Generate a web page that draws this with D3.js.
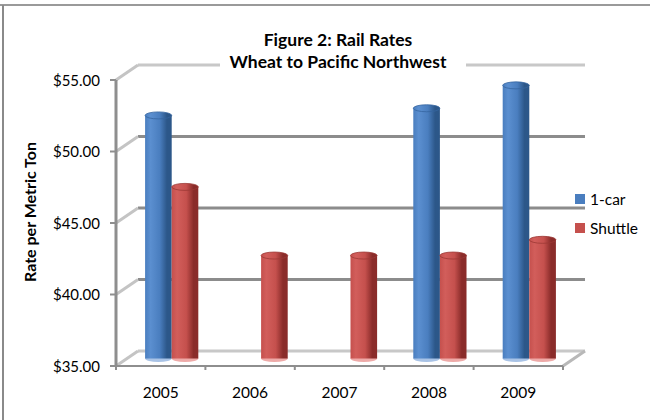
<!DOCTYPE html>
<html><head><meta charset="utf-8">
<script src="https://cdn.jsdelivr.net/npm/d3@7"></script>
<style>html,body{margin:0;padding:0;background:#fff;}svg{display:block;font-family:Lato,"Open Sans",sans-serif;}</style>
</head><body>
<svg id="c" width="650" height="420"></svg>
<script>
const categories = ["2005","2006","2007","2008","2009"];
const seriesNames = ["1-car","Shuttle"];
const oneCar = [52.0, null, null, 52.5, 54.1];
const shuttle = [47.0, 42.2, 42.2, 42.2, 43.3];
const yTicks = [35, 40, 45, 50, 55];
const yTickLabels = ["$35.00","$40.00","$45.00","$50.00","$55.00"];
const colors = {"1-car":{main:"#4a7ebf",light:"#5b8fd0",dark:"#2c5789",rim:"#a9c3e6",edge:"#35659f"},
                "Shuttle":{main:"#c5504d",light:"#d25e5b",dark:"#8a2c2a",rim:"#eeaaa8",edge:"#9c3835"}};

const svg = d3.select("#c");
const W = 650, H = 420;
const DX = 22, DY = -15;
const x = d3.scaleBand().domain(categories).range([116, 563]);
const xs = d3.scaleBand().domain(seriesNames).range([0, x.bandwidth()]).paddingOuter(0.68).paddingInner(0);
const y = d3.scaleLinear().domain([35, 55]).range([366, 80]);

const defs = svg.append("defs");
Object.entries(colors).forEach(([k, c], i) => {
  const g = defs.append("linearGradient").attr("id", "g" + i).attr("x1", 0).attr("x2", 1).attr("y1", 0).attr("y2", 0);
  [[0, c.main], [0.2, c.light], [0.55, c.main], [0.82, c.dark], [1, c.dark]].forEach(([o, col]) =>
    g.append("stop").attr("offset", o).attr("stop-color", col));
});
const gradId = s => "url(#g" + seriesNames.indexOf(s) + ")";

// frame
svg.append("line").attr("x1", 0).attr("x2", W).attr("y1", 5).attr("y2", 5).attr("stroke", "#9a9a9a").attr("stroke-width", 2);
svg.append("line").attr("x1", 3).attr("x2", 3).attr("y1", 5).attr("y2", H).attr("stroke", "#8a8a8a").attr("stroke-width", 2);

const x0 = x.range()[0], x1 = x.range()[1];
// back wall gridlines
svg.append("g").selectAll("line").data(yTicks).join("line")
  .attr("x1", x0 + DX).attr("x2", x1 + DX)
  .attr("y1", d => y(d) + DY).attr("y2", d => y(d) + DY)
  .attr("stroke", d => (d === 35 || d === 55) ? "#c8c8c8" : "#8c8c8c")
  .attr("stroke-width", 3);
// left wall diagonals
svg.append("g").selectAll("line").data(yTicks).join("line")
  .attr("x1", x0).attr("x2", x0 + DX)
  .attr("y1", d => y(d)).attr("y2", d => y(d) + DY)
  .attr("stroke", "#c4c4c4").attr("stroke-width", 3);
// floor right diagonal
svg.append("line").attr("x1", x1).attr("x2", x1 + DX).attr("y1", y(35)).attr("y2", y(35) + DY)
  .attr("stroke", "#b8b8b8").attr("stroke-width", 3);

// title
svg.append("rect").attr("x", 220).attr("y", 52).attr("width", 246).attr("height", 20).attr("fill", "#fff");
svg.append("text").attr("x", 338).attr("y", 46).attr("text-anchor", "middle").attr("font-weight", "bold").attr("font-size", 17.5).text("Figure 2: Rail Rates");
svg.append("text").attr("x", 338).attr("y", 68).attr("text-anchor", "middle").attr("font-weight", "bold").attr("font-size", 17.5).text("Wheat to Pacific Northwest");

// y axis
svg.append("line").attr("x1", x0).attr("x2", x0).attr("y1", y(55)).attr("y2", y(35)).attr("stroke", "#8e8e8e").attr("stroke-width", 3);
svg.append("g").selectAll("line").data(yTicks).join("line")
  .attr("x1", x0 - 6).attr("x2", x0).attr("y1", d => y(d)).attr("y2", d => y(d))
  .attr("stroke", "#8e8e8e").attr("stroke-width", 2);
svg.append("g").selectAll("text").data(yTicks).join("text")
  .attr("x", 100).attr("y", d => y(d) + 5.5).attr("text-anchor", "end").attr("font-size", 15).attr("fill", "#000")
  .text((d, i) => yTickLabels[i]);
svg.append("text").attr("transform", "translate(36,212) rotate(-90)").attr("text-anchor", "middle")
  .attr("font-weight", "bold").attr("font-size", 16).text("Rate per Metric Ton");

// x axis
svg.append("line").attr("x1", x0).attr("x2", x1).attr("y1", y(35)).attr("y2", y(35)).attr("stroke", "#8e8e8e").attr("stroke-width", 2);
const bounds = categories.map(c => x(c)).concat([x1]);
svg.append("g").selectAll("line").data(bounds).join("line")
  .attr("x1", d => d).attr("x2", d => d).attr("y1", y(35)).attr("y2", y(35) + 4)
  .attr("stroke", "#8e8e8e").attr("stroke-width", 2);
svg.append("g").selectAll("text").data(categories).join("text")
  .attr("x", d => x(d) + x.bandwidth() / 2).attr("y", 398).attr("text-anchor", "middle").attr("font-size", 15.5)
  .text(d => d);

// bars (cylinders) at mid depth
const bars = [];
categories.forEach((c, i) => {
  [["1-car", oneCar[i]], ["Shuttle", shuttle[i]]].forEach(([s, v]) => { if (v != null) bars.push({c, s, v}); });
});
const ry = 3.5;
const bg = svg.append("g").selectAll("g").data(bars).join("g");
bg.each(function(d) {
  const g = d3.select(this);
  const bx = x(d.c) + xs(d.s) + DX / 2;
  const w = xs.bandwidth();
  const yb = y(35) + DY / 2;
  const yt = y(d.v) + DY / 2;
  const col = colors[d.s];
  g.append("ellipse").attr("cx", bx + w / 2).attr("cy", yb).attr("rx", w / 2).attr("ry", ry).attr("fill", col.rim);
  g.append("rect").attr("x", bx).attr("y", yt).attr("width", w).attr("height", yb - yt).attr("fill", gradId(d.s));
  g.append("ellipse").attr("cx", bx + w / 2).attr("cy", yt).attr("rx", w / 2).attr("ry", ry)
    .attr("fill", gradId(d.s)).attr("stroke", col.edge).attr("stroke-width", 0.8);
});

// legend
const lg = svg.append("g").selectAll("g").data(seriesNames).join("g")
  .attr("transform", (d, i) => `translate(575,${194 + i * 29})`);
lg.append("rect").attr("width", 10).attr("height", 10).attr("fill", d => colors[d].main);
lg.append("text").attr("x", 15).attr("y", 10.5).attr("font-size", 15.5).text(d => d);
</script>
</body></html>
